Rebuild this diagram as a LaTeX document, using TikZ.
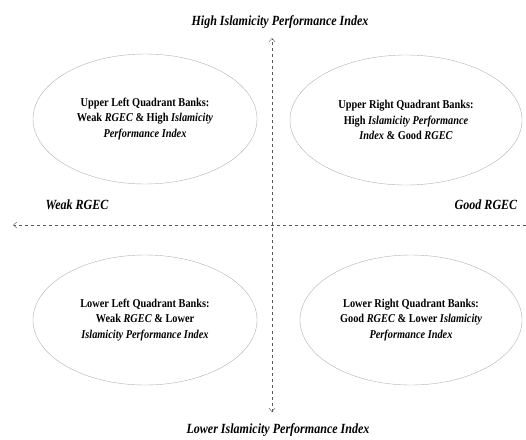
\documentclass[tikz,border=0pt]{standalone}
\usepackage{fontspec}
\setmainfont{Liberation Serif}[FakeStretch=0.86]
\usetikzlibrary{shapes.geometric, arrows.meta}

\tikzset{
	quad/.style={ellipse, draw=gray!60, thin, minimum width=224pt,
		minimum height=130pt, inner sep=0pt, align=center,
		font=\bfseries\fontsize{12}{15.5}\selectfont},
	axislabel/.style={font=\bfseries\itshape\fontsize{14}{16}\selectfont},
	axisline/.style={dashed, thin, gray!70!black,
		>={Straight Barb[length=3.5pt, width=6pt]}}
}

\begin{document}
\begin{tikzpicture}[x=1pt, y=-1pt]

	\useasboundingbox (0,0) rectangle (526,439);

	% axes
	\coordinate (top) at (272,38);
	\coordinate (bottom) at (272,412);
	\coordinate (left) at (13,225);
	\coordinate (right) at (526,225);

	\draw[axisline, <->] (bottom) -- (top);
	\draw[axisline, ->] (right) -- (left);

	\node[axislabel] (high) at (280,22) {High Islamicity Performance Index};
	\node[axislabel] (low) at (278,430) {Lower Islamicity Performance Index};
	\node[axislabel] (weak) at (77,205) {Weak RGEC};
	\node[axislabel] (good) at (486,205) {Good RGEC};

	% quadrants
	\node[quad] (ul) at (145,119) {Upper Left Quadrant Banks:\\
		Weak \textit{RGEC} \& High \textit{Islamicity}\\
		\textit{Performance Index}};
	\node[quad, minimum width=232pt] (ur) at (406,120) {Upper Right Quadrant Banks:\\
		High \textit{Islamicity Performance}\\
		\textit{Index} \& Good \textit{RGEC}};
	\node[quad] (ll) at (145,320) {Lower Left Quadrant Banks:\\
		Weak \textit{RGEC} \& Lower\\
		\textit{Islamicity Performance Index}};
	\node[quad, minimum width=222pt] (lr) at (411,320) {Lower Right Quadrant Banks:\\
		Good \textit{RGEC} \& Lower \textit{Islamicity}\\
		\textit{Performance Index}};

\end{tikzpicture}
\end{document}
